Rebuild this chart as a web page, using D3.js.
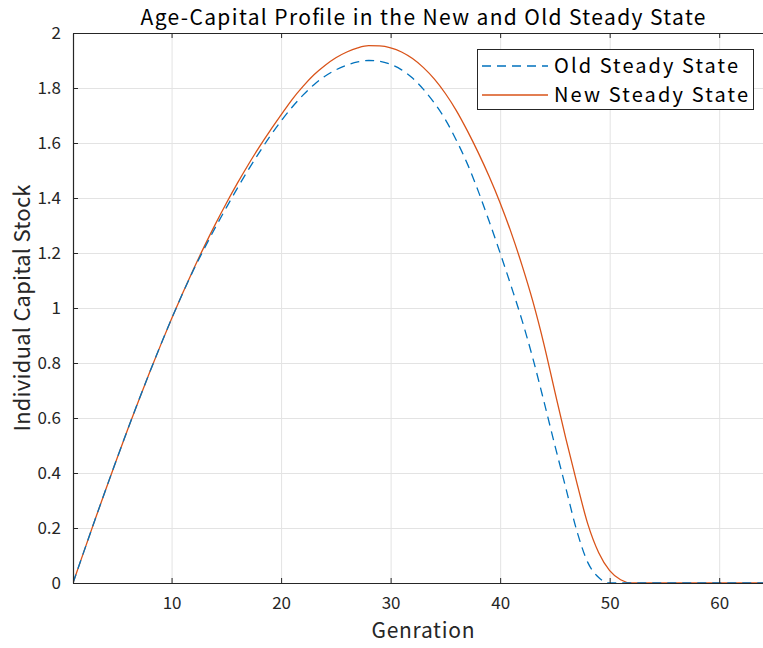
<!DOCTYPE html>
<html>
<head>
<meta charset="utf-8">
<script src="https://cdn.jsdelivr.net/npm/d3@7"></script>
<style>
  body { margin: 0; background: #fff; }
  svg { display: block; font-family: "Noto Sans CJK JP", "Noto Sans", sans-serif; }
</style>
</head>
<body>
<div id="plot"></div>
<script>
// generation index 1..64
const generations = d3.range(1, 65);

// capital stock by generation
const oldSteady = [
  0, 0.115, 0.229, 0.341, 0.451, 0.559, 0.664, 0.766, 0.865, 0.961,
  1.052, 1.138, 1.217, 1.293, 1.365, 1.435, 1.502, 1.565, 1.625, 1.68,
  1.73, 1.774, 1.812, 1.843, 1.866, 1.883, 1.895, 1.9, 1.897, 1.886,
  1.866, 1.836, 1.795, 1.745, 1.685, 1.61, 1.525, 1.425, 1.315, 1.2,
  1.08, 0.955, 0.815, 0.66, 0.5, 0.345, 0.19, 0.075, 0.02, 0,
  0, 0, 0, 0, 0, 0, 0, 0, 0, 0, 0, 0, 0, 0
];
const newSteady = [
  0, 0.115, 0.229, 0.341, 0.451, 0.559, 0.664, 0.766, 0.865, 0.961,
  1.053, 1.141, 1.225, 1.305, 1.381, 1.453, 1.521, 1.585, 1.645, 1.702,
  1.758, 1.806, 1.848, 1.882, 1.91, 1.931, 1.946, 1.954, 1.953, 1.946,
  1.931, 1.907, 1.874, 1.832, 1.78, 1.718, 1.645, 1.565, 1.478, 1.382,
  1.275, 1.155, 1.022, 0.868, 0.695, 0.525, 0.365, 0.215, 0.11, 0.045,
  0.012, 0, 0, 0, 0, 0, 0, 0, 0, 0, 0, 0, 0, 0
];

const xTicks = [10, 20, 30, 40, 50, 60];
const yTicks = [0, 0.2, 0.4, 0.6, 0.8, 1, 1.2, 1.4, 1.6, 1.8, 2];
const seriesNames = ["Old Steady State", "New Steady State"];

const w = 763;
const h = 648;
const padL = 73, padR = 763, padT = 33, padB = 583;
const ink = "#262626";

const svg = d3.select("#plot")
  .append("svg")
  .attr("width", w)
  .attr("height", h);

const xScale = d3.scaleLinear().domain([1, 64]).range([padL, padR]);
const yScale = d3.scaleLinear().domain([0, 2]).range([padB, padT]);

svg.append("defs").append("clipPath").attr("id", "clip")
  .append("rect")
  .attr("x", padL).attr("y", padT - 2)
  .attr("width", padR - padL).attr("height", padB - padT + 4);

// stretch a label to the width it takes in the picture
function fit(sel, width) {
  sel.attr("textLength", width).attr("lengthAdjust", "spacing");
  return sel;
}

// grid
svg.append("g")
  .attr("transform", "translate(0," + padB + ")")
  .call(d3.axisBottom(xScale).tickValues(xTicks).tickSize(-(padB - padT)).tickFormat(""))
  .call(g => g.select(".domain").remove())
  .call(g => g.selectAll("line").attr("stroke", "#e3e3e3"));
svg.append("g")
  .attr("transform", "translate(" + padL + ",0)")
  .call(d3.axisLeft(yScale).tickValues(yTicks).tickSize(-(padR - padL)).tickFormat(""))
  .call(g => g.select(".domain").remove())
  .call(g => g.selectAll("line").attr("stroke", "#e3e3e3"));

// curves
const line = d3.line()
  .x((d, i) => xScale(generations[i]))
  .y(d => yScale(d))
  .curve(d3.curveMonotoneX);

const plot = svg.append("g").attr("clip-path", "url(#clip)");
plot.append("path")
  .datum(newSteady)
  .attr("fill", "none")
  .attr("stroke", "#D95319")
  .attr("stroke-width", 1.3)
  .attr("d", line);
plot.append("path")
  .datum(oldSteady)
  .attr("fill", "none")
  .attr("stroke", "#0072BD")
  .attr("stroke-width", 1.3)
  .attr("stroke-dasharray", "9,6")
  .attr("d", line);

// axes
const xAxis = svg.append("g")
  .attr("transform", "translate(0," + padB + ")")
  .call(d3.axisBottom(xScale).tickValues(xTicks).tickSizeInner(-5).tickSizeOuter(0).tickPadding(14));
const xTop = svg.append("g")
  .attr("transform", "translate(0," + padT + ")")
  .call(d3.axisTop(xScale).tickValues(xTicks).tickSizeInner(-5).tickSizeOuter(0).tickFormat(""));
const yAxis = svg.append("g")
  .attr("transform", "translate(" + padL + ",0)")
  .call(d3.axisLeft(yScale).tickValues(yTicks).tickSizeInner(-5).tickSizeOuter(0).tickPadding(12)
    .tickFormat(d3.format("~g")));

[xAxis, xTop, yAxis].forEach(g => {
  g.select(".domain").attr("stroke", ink).attr("stroke-width", 1.2);
  g.selectAll(".tick line").attr("stroke", ink);
  g.selectAll("text").attr("fill", ink).style("font-size", "17px")
    .style("font-family", "'Noto Sans CJK JP', sans-serif");
});
yAxis.selectAll("text").attr("dy", "0.35em");

// labels
fit(svg.append("text")
  .attr("x", 423).attr("y", 25)
  .attr("text-anchor", "middle")
  .attr("fill", "#000")
  .style("font-size", "21px")
  .text("Age-Capital Profile in the New and Old Steady State"), 565);

fit(svg.append("text")
  .attr("x", 423).attr("y", 638)
  .attr("text-anchor", "middle")
  .attr("fill", ink)
  .style("font-size", "21px")
  .text("Genration"), 103);

fit(svg.append("text")
  .attr("transform", "translate(30,308) rotate(-90)")
  .attr("text-anchor", "middle")
  .attr("fill", ink)
  .style("font-size", "22px")
  .text("Individual Capital Stock"), 247);

// legend
const legend = svg.append("g").attr("id", "legend");
legend.append("rect")
  .attr("x", 477.5).attr("y", 49.5)
  .attr("width", 276).attr("height", 60)
  .attr("fill", "#fff")
  .attr("stroke", ink)
  .attr("stroke-width", 1);

const legendRows = [
  { name: seriesNames[0], color: "#0072BD", dash: "9,6", y: 66, width: 184 },
  { name: seriesNames[1], color: "#D95319", dash: null, y: 95, width: 194 }
];
legendRows.forEach(r => {
  legend.append("line")
    .attr("x1", 482).attr("x2", 548)
    .attr("y1", r.y).attr("y2", r.y)
    .attr("stroke", r.color)
    .attr("stroke-width", 1.3)
    .attr("stroke-dasharray", r.dash);
  fit(legend.append("text")
    .attr("x", 554).attr("y", r.y)
    .attr("dy", "0.35em")
    .attr("fill", "#000")
    .style("font-size", "20px")
    .text(r.name), r.width);
});
</script>
</body>
</html>
